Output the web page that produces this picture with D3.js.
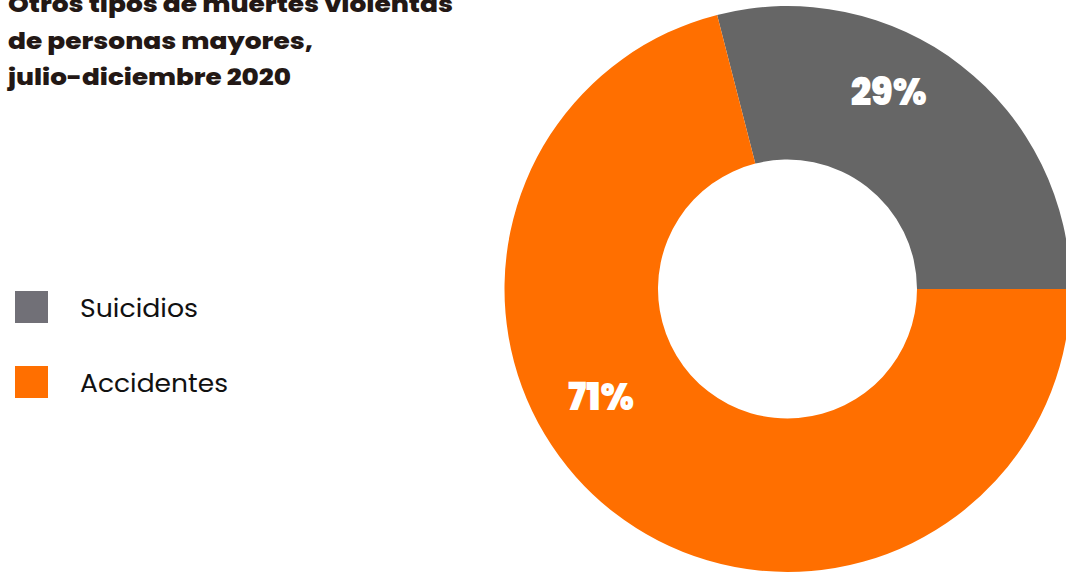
<!DOCTYPE html>
<html>
<head>
<meta charset="utf-8">
<script src="https://cdn.jsdelivr.net/npm/d3@7"></script>
<style>
  html, body { margin: 0; padding: 0; background: #ffffff; overflow: hidden; }
  svg { display: block; }
</style>
</head>
<body>
<svg id="chart" width="1066" height="573"></svg>
<script>
// ---- data ----
const categories = ["Suicidios", "Accidentes"];
const values = [29, 71];
const labels = ["29%", "71%"];
const titleLines = ["Otros tipos de muertes violentas", "de personas mayores,", "julio-diciembre 2020"];

// ---- styles ----
const sliceColors = ["#666666", "#ff6f00"];
const legendColors = ["#717077", "#ff6f00"];
const titleWidths = [445, 305, 283];
const titleBaselines = [12, 49, 85];
const legendWidths = [118, 148];
const labelWidths = [76, 66];
const labelNudgeDeg = [-10.7, 22.4];
const labelRadii = [222, 215];

const svg = d3.select("#chart");
const cx = 787.5, cy = 289, rOuter = 283, rInner = 129.5;

// donut
const total = d3.sum(values);
const startA = Math.PI / 2 - (values[0] / total) * 2 * Math.PI;
const pie = d3.pie().sort(null).value(d => d.value)
  .startAngle(startA).endAngle(startA + 2 * Math.PI);
const data = categories.map((c, i) => ({ name: c, value: values[i], label: labels[i], i }));
const arcs = pie(data);
const arc = d3.arc().innerRadius(rInner).outerRadius(rOuter);

const g = svg.append("g").attr("transform", `translate(${cx},${cy})`);
g.selectAll("path.slice").data(arcs).enter().append("path")
  .attr("class", "slice")
  .attr("d", arc)
  .attr("fill", d => sliceColors[d.data.i]);

g.selectAll("text.pct").data(arcs).enter().append("text")
  .attr("class", "pct")
  .each(function(d) {
    const i = d.data.i;
    const a = (d.startAngle + d.endAngle) / 2 + labelNudgeDeg[i] * Math.PI / 180;
    const r = labelRadii[i];
    d3.select(this)
      .attr("x", r * Math.sin(a))
      .attr("y", -r * Math.cos(a));
  })
  .attr("dy", "0.36em")
  .attr("text-anchor", "middle")
  .attr("font-family", "Poppins, 'DejaVu Sans', sans-serif")
  .attr("font-weight", 900)
  .attr("font-size", 39)
  .attr("fill", "#ffffff")
  .attr("textLength", d => labelWidths[d.data.i])
  .attr("lengthAdjust", "spacingAndGlyphs")
  .text(d => d.data.label);

// title
const title = svg.append("g");
titleLines.forEach((t, i) => {
  title.append("text")
    .attr("x", 8)
    .attr("y", titleBaselines[i])
    .attr("font-family", "Poppins, 'DejaVu Sans', sans-serif")
    .attr("font-weight", 800)
    .attr("font-size", 23)
    .attr("fill", "#231815")
    .attr("textLength", titleWidths[i])
    .attr("lengthAdjust", "spacingAndGlyphs")
    .text(t);
});

// legend
const legend = svg.append("g");
const legendY = d3.scalePoint().domain(categories).range([291, 366]);
categories.forEach((c, i) => {
  legend.append("rect")
    .attr("x", 15)
    .attr("y", legendY(c))
    .attr("width", 33)
    .attr("height", 32)
    .attr("fill", legendColors[i]);
  legend.append("text")
    .attr("x", 80)
    .attr("y", legendY(c) + 26)
    .attr("font-family", "Poppins, 'DejaVu Sans', sans-serif")
    .attr("font-weight", 400)
    .attr("font-size", 24)
    .attr("fill", "#111111")
    .attr("textLength", legendWidths[i])
    .attr("lengthAdjust", "spacingAndGlyphs")
    .text(c);
});
</script>
</body>
</html>
